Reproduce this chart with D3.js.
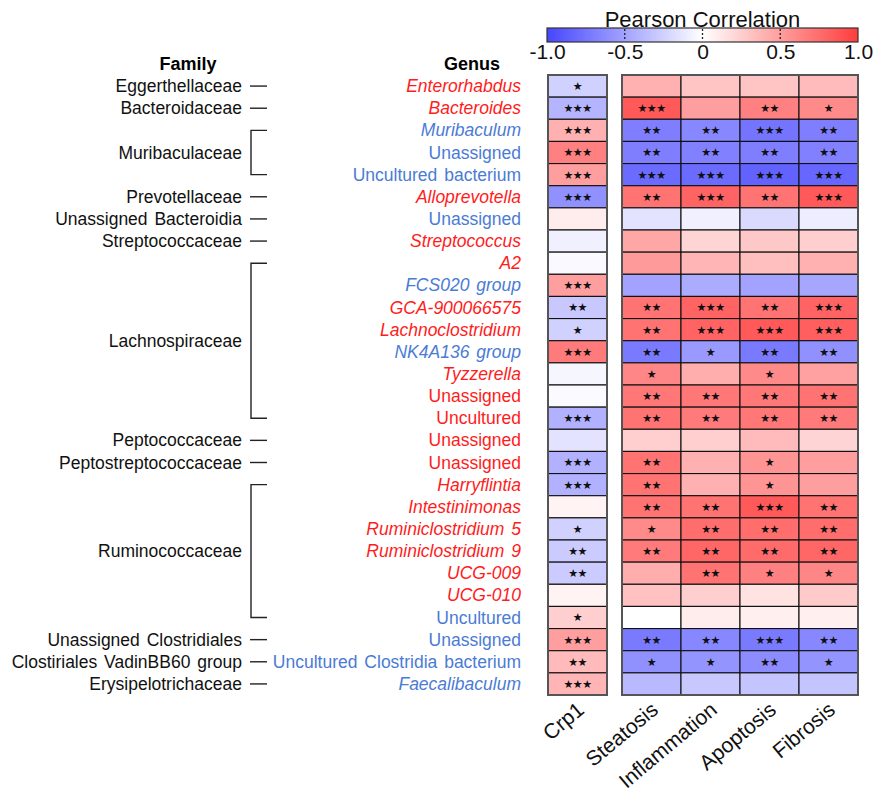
<!doctype html>
<meta charset="utf-8">
<title>Pearson Correlation heatmap</title>
<script src="https://cdn.jsdelivr.net/npm/d3@7/dist/d3.min.js"></script>
<body style="margin:0;background:#fff">
<script>

    // genus rows, top to bottom
    var genera = ["Enterorhabdus", "Bacteroides", "Muribaculum", "Unassigned", "Uncultured bacterium",
        "Alloprevotella", "Unassigned", "Streptococcus", "A2", "FCS020 group", "GCA-900066575",
        "Lachnoclostridium", "NK4A136 group", "Tyzzerella", "Unassigned", "Uncultured", "Unassigned",
        "Unassigned", "Harryflintia", "Intestinimonas", "Ruminiclostridium 5", "Ruminiclostridium 9",
        "UCG-009", "UCG-010", "Uncultured", "Unassigned", "Uncultured Clostridia bacterium", "Faecalibaculum"];
    var genusItalic = [1,1,1,0,0, 1,0,1,1,1,1, 1,1,1,0,0,0, 0,1,1,1,1, 1,1,0,0,0,1];
    // r = red label, b = blue label
    var genusTone = ["r","r","b","b","b", "r","b","r","r","b","r", "r","b","r","r","r","r",
        "r","r","r","r","r", "r","r","b","b","b","b"];

    var familyNames = ["Eggerthellaceae", "Bacteroidaceae", "Muribaculaceae", "Prevotellaceae",
        "Unassigned Bacteroidia", "Streptococcaceae", "Lachnospiraceae", "Peptococcaceae",
        "Peptostreptococcaceae", "Ruminococcaceae", "Unassigned Clostridiales",
        "Clostiriales VadinBB60 group", "Erysipelotrichaceae"];
    var familyFirst = [0, 1, 2, 5, 6, 7, 8, 16, 17, 18, 25, 26, 27];
    var familyLast  = [0, 1, 4, 5, 6, 7, 15, 16, 17, 24, 25, 26, 27];

    var crp1 = [-0.25, -0.4, 0.4, 0.65, 0.5, -0.6, 0.1, -0.08, -0.03, 0.5, -0.3, -0.25, 0.68, -0.05,
        -0.02, -0.42, -0.15, -0.42, -0.42, 0.06, -0.25, -0.28, -0.28, 0.06, 0.25, 0.5, 0.35, 0.38];
    var crp1Stars = ["*","***","***","***","***","***","","","","***","**","*","***","",
        "","***","","***","***","","*","**","**","","*","***","**","***"];

    var traits = ["Steatosis", "Inflammation", "Apoptosis", "Fibrosis"];
    var steatosis = [0.4, 0.85, -0.7, -0.7, -0.8, 0.72, -0.15, 0.45, 0.52, -0.5, 0.72, 0.72, -0.72, 0.62,
        0.7, 0.72, 0.25, 0.72, 0.72, 0.72, 0.6, 0.68, 0.42, 0.32, 0.0, -0.72, -0.6, -0.38];
    var inflammation = [0.3, 0.5, -0.65, -0.68, -0.8, 0.8, -0.08, 0.22, 0.38, -0.45, 0.8, 0.8, -0.55, 0.42,
        0.7, 0.68, 0.25, 0.4, 0.4, 0.72, 0.75, 0.78, 0.72, 0.25, 0.1, -0.65, -0.58, -0.3];
    var apoptosis = [0.3, 0.65, -0.75, -0.7, -0.85, 0.72, -0.2, 0.28, 0.33, -0.5, 0.72, 0.85, -0.72, 0.6,
        0.7, 0.7, 0.35, 0.55, 0.55, 0.85, 0.75, 0.76, 0.65, 0.15, 0.08, -0.72, -0.62, -0.32];
    var fibrosis = [0.35, 0.6, -0.7, -0.68, -0.82, 0.85, -0.1, 0.25, 0.4, -0.48, 0.8, 0.82, -0.6, 0.48,
        0.72, 0.68, 0.22, 0.5, 0.5, 0.72, 0.75, 0.78, 0.62, 0.27, 0.08, -0.65, -0.58, -0.32];

    var steatosisStars = ["","***","**","**","***","**","","","","","**","**","**","*",
        "**","**","","**","**","**","*","**","","","","**","*",""];
    var inflammationStars = ["","","**","**","***","***","","","","","***","***","*","",
        "**","**","","","","**","**","**","**","","","**","*",""];
    var apoptosisStars = ["","**","***","**","***","**","","","","","**","***","**","*",
        "**","**","","*","*","***","**","**","*","","","***","**",""];
    var fibrosisStars = ["","*","**","**","***","***","","","","","***","***","**","",
        "**","**","","","","**","**","**","*","","","**","*",""];

    var colorTicks = [-1, -0.5, 0, 0.5, 1];
    var colorTickLabels = ["-1.0", "-0.5", "0", "0.5", "1.0"];

    var traitValues = [steatosis, inflammation, apoptosis, fibrosis];
    var traitStars = [steatosisStars, inflammationStars, apoptosisStars, fibrosisStars];

    var font = "'Liberation Sans', Arial, sans-serif";
    var width = 876, height = 795;

    var svg = d3.select("body").append("svg")
        .attr("width", width)
        .attr("height", height)
        .style("font-family", font);

    var color = d3.scaleLinear()
        .domain([-1, 0, 1])
        .range(["#4646ff", "#ffffff", "#ff3c3c"]);

    var y = d3.scaleBand()
        .domain(d3.range(genera.length))
        .range([75, 695]);

    var xCrp = d3.scaleBand().domain(["Crp1"]).range([548, 607]);
    var x = d3.scaleBand().domain(traits).range([622, 858]);

    function cy(i) { return y(i) + y.bandwidth() / 2; }

    // ---- colour bar ----
    var cbar = d3.scaleLinear().domain([-1, 1]).range([547, 858]);

    var grad = svg.append("defs").append("linearGradient")
        .attr("id", "grad")
        .attr("x1", "0%").attr("x2", "100%");
    d3.range(0, 1.0001, 0.1).forEach(function(t) {
        grad.append("stop")
            .attr("offset", (t * 100) + "%")
            .attr("stop-color", color(-1 + 2 * t));
    });

    svg.append("text")
        .attr("x", cbar(0))
        .attr("y", 27)
        .attr("text-anchor", "middle")
        .attr("font-size", "22px")
        .attr("fill", "#111")
        .text("Pearson Correlation");

    svg.append("rect")
        .attr("x", cbar(-1))
        .attr("y", 28)
        .attr("width", cbar(1) - cbar(-1))
        .attr("height", 14)
        .attr("fill", "url(#grad)")
        .attr("stroke", "#333")
        .attr("stroke-width", 1.2);

    svg.selectAll(".cdot")
        .data([-0.5, 0, 0.5])
        .enter().append("line")
        .attr("x1", function(d) { return cbar(d); })
        .attr("x2", function(d) { return cbar(d); })
        .attr("y1", 29)
        .attr("y2", 41)
        .attr("stroke", "#222")
        .attr("stroke-width", 1.3)
        .attr("stroke-dasharray", "2,2");

    var cAxis = svg.append("g")
        .attr("transform", "translate(0,42)")
        .call(d3.axisBottom(cbar)
            .tickValues(colorTicks)
            .tickSize(0)
            .tickPadding(2)
            .tickFormat(function(d, i) { return colorTickLabels[i]; }));
    cAxis.select(".domain").remove();
    cAxis.selectAll("text")
        .attr("font-size", "21px")
        .attr("font-family", font)
        .attr("fill", "#111");

    // ---- headers ----
    svg.append("text")
        .attr("x", 188).attr("y", 70)
        .attr("text-anchor", "middle")
        .attr("font-size", "18px")
        .attr("font-weight", "bold")
        .text("Family");

    svg.append("text")
        .attr("x", 472).attr("y", 70)
        .attr("text-anchor", "middle")
        .attr("font-size", "18px")
        .attr("font-weight", "bold")
        .text("Genus");

    // ---- genus labels ----
    svg.selectAll(".genus")
        .data(genera)
        .enter().append("text")
        .attr("x", 521)
        .attr("y", function(d, i) { return cy(i); })
        .attr("dy", "0.35em")
        .attr("text-anchor", "end")
        .attr("font-size", "17.5px")
        .attr("word-spacing", "2px")
        .attr("font-style", function(d, i) { return genusItalic[i] ? "italic" : "normal"; })
        .attr("fill", function(d, i) { return genusTone[i] === "r" ? "#ff1c1c" : "#4a7bd6"; })
        .text(function(d) { return d; });

    // ---- family labels and brackets ----
    familyNames.forEach(function(name, k) {
        var a = cy(familyFirst[k]), b = cy(familyLast[k]);
        svg.append("text")
            .attr("x", 242)
            .attr("y", (a + b) / 2)
            .attr("dy", "0.35em")
            .attr("text-anchor", "end")
            .attr("font-size", "17.5px")
            .attr("word-spacing", "2px")
            .attr("fill", "#111")
            .text(name);
        if (a === b) {
            svg.append("line")
                .attr("x1", 250).attr("x2", 267)
                .attr("y1", a).attr("y2", a)
                .attr("stroke", "#222").attr("stroke-width", 1.4);
        } else {
            svg.append("path")
                .attr("d", "M267," + a + "H251V" + b + "H267")
                .attr("fill", "none")
                .attr("stroke", "#222").attr("stroke-width", 1.4);
        }
    });

    // ---- heatmap cells ----
    function drawColumn(xs, key, values, stars) {
        var g = svg.append("g");
        g.selectAll("rect")
            .data(values)
            .enter().append("rect")
            .attr("x", xs(key))
            .attr("y", function(d, i) { return y(i); })
            .attr("width", xs.bandwidth())
            .attr("height", y.bandwidth())
            .attr("fill", function(d) { return color(d); })
            .attr("stroke", "#111")
            .attr("stroke-width", 1.1);
        g.selectAll("text")
            .data(stars)
            .enter().append("text")
            .attr("x", xs(key) + xs.bandwidth() / 2)
            .attr("y", function(d, i) { return cy(i); })
            .attr("dy", "0.36em")
            .attr("text-anchor", "middle")
            .attr("font-family", "'DejaVu Sans', sans-serif")
            .attr("font-size", "11px")
            .attr("letter-spacing", "-0.5px")
            .attr("fill", "#111")
            .text(function(d) { return d.replace(/\*/g, "\u2605"); });
    }

    drawColumn(xCrp, "Crp1", crp1, crp1Stars);
    traits.forEach(function(t, j) {
        drawColumn(x, t, traitValues[j], traitStars[j]);
    });

    // outer frames
    svg.append("rect")
        .attr("x", xCrp.range()[0]).attr("y", 75)
        .attr("width", xCrp.range()[1] - xCrp.range()[0]).attr("height", 620)
        .attr("fill", "none").attr("stroke", "#555").attr("stroke-width", 2);
    svg.append("rect")
        .attr("x", x.range()[0]).attr("y", 75)
        .attr("width", x.range()[1] - x.range()[0]).attr("height", 620)
        .attr("fill", "none").attr("stroke", "#555").attr("stroke-width", 2);

    // ---- column labels ----
    var colLabels = [{name: "Crp1", cx: xCrp("Crp1") + xCrp.bandwidth() / 2}];
    traits.forEach(function(t) {
        colLabels.push({name: t, cx: x(t) + x.bandwidth() / 2});
    });

    svg.selectAll(".col")
        .data(colLabels)
        .enter().append("text")
        .attr("transform", function(d) { return "translate(" + (d.cx + 8) + ",712) rotate(-40)"; })
        .attr("text-anchor", "end")
        .attr("font-size", "21px")
        .attr("fill", "#111")
        .text(function(d) { return d.name; });

</script>
</body>
